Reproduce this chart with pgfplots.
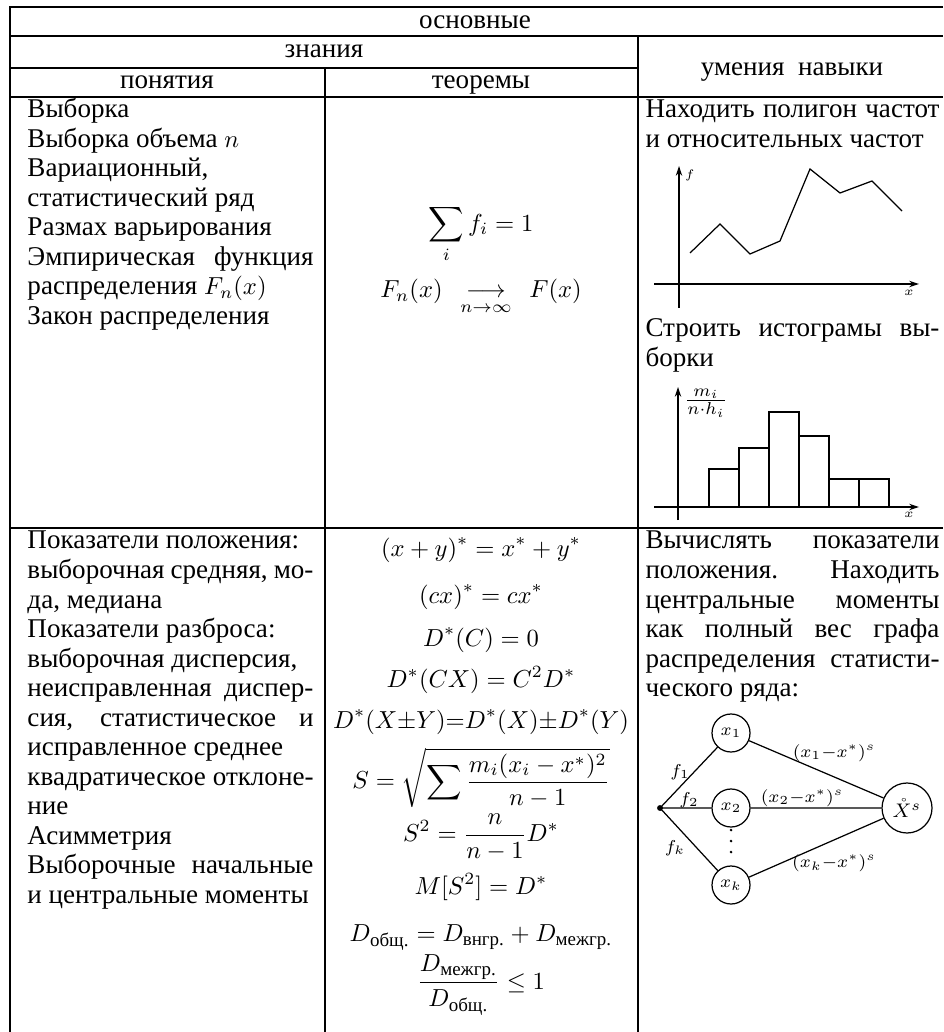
\documentclass[border=0pt]{standalone}
\usepackage{amsmath}
\usepackage{fontspec}
\setmainfont{Liberation Serif}[Scale=1.1]
\usepackage{pgfplots}
\pgfplotsset{compat=1.18}
\usetikzlibrary{arrows.meta}

% one pixel of the reference
\newlength\px
\setlength\px{0.4065pt}
\newcommand\LL[3]{\node[anchor=base west,inner sep=0pt] at (#1,#2) {#3};}
\newcommand\JL[4]{\node[anchor=base west,inner sep=0pt] at (#1,#2) {\makebox[#3\px][s]{#4}};}
\newcommand\FM[2]{\node[inner sep=0pt] at (481,#1) {$\displaystyle #2$};}

\pgfplotsset{smallchart/.style={
  anchor=south west,scale only axis,axis lines=middle,
  xtick=\empty,ytick=\empty,clip=false,
  axis line style={line width=0.5pt,-{Stealth[length=4pt,width=2.6pt]}}}}

\begin{document}
\begin{tikzpicture}
\begin{scope}[x=\px,y=-\px]
\useasboundingbox (0,0) rectangle (943,1032);
% table rules
\draw[line width=1pt] (943,7) -- (10,7) -- (10,1032);
\draw[line width=1pt] (10,36) -- (943,36) (10,68) -- (638,68)
  (10,97) -- (943,97) (10,528) -- (943,528);
\draw[line width=1pt] (325,68) -- (325,1032) (638,36) -- (638,1032);

% header
\node[anchor=base] at (475,29) {основные};
\node[anchor=base] at (324,58) {знания};
\node[anchor=base] at (167,89) {понятия};
\node[anchor=base] at (481,89) {теоремы};
\node[anchor=base] at (792,76) {умения\ \ навыки};

% row 2, concepts
\LL{27}{118}{Выборка}
\LL{27}{147.5}{Выборка объема $n$}
\LL{27}{177}{Вариационный,}
\LL{27}{206.5}{статистический ряд}
\LL{27}{236}{Размах варьирования}
\JL{27}{265.5}{286}{Эмпирическая функция}
\LL{27}{295}{распределения $F_n(x)$}
\LL{27}{324.5}{Закон распределения}

% row 2, theorems
\FM{234}{\sum_i f_i = 1}
\FM{297}{F_n(x)\ \ \mathop{\longrightarrow}\limits_{n\to\infty}\ \ F(x)}

% row 2, skills
\JL{645}{118}{294}{Находить полигон частот}
\LL{645}{147.5}{и относительных частот}
\JL{645}{337}{294}{Строить истограмы вы-}
\LL{645}{366.5}{борки}

% row 3, concepts
\LL{27}{549}{Показатели положения:}
\JL{27}{578.5}{286}{выборочная средняя, мо-}
\LL{27}{608}{да, медиана}
\LL{27}{637.5}{Показатели разброса:}
\LL{27}{667}{выборочная дисперсия,}
\JL{27}{696.5}{286}{неисправленная диспер-}
\JL{27}{726}{286}{сия, статистическое и}
\LL{27}{755.5}{исправленное среднее}
\JL{27}{785}{286}{квадратическое отклоне-}
\LL{27}{814.5}{ние}
\LL{27}{844}{Асимметрия}
\JL{27}{873.5}{286}{Выборочные начальные}
\LL{27}{903}{и центральные моменты}

% row 3, theorems
\FM{550}{(x+y)^* = x^* + y^*}
\FM{597}{(cx)^* = cx^*}
\FM{640}{D^*(C) = 0}
\FM{680}{D^*(CX) = C^2 D^*}
\FM{722}{D^*(X{\pm}Y){=}D^*(X){\pm}D^*(Y)}
\FM{778}{S = \sqrt{\sum \frac{m_i(x_i - x^*)^2}{n-1}}}
\FM{837}{S^2 = \frac{n}{n-1} D^*}
\FM{887}{M[S^2] = D^*}
\FM{938}{D_{\text{общ.}} = D_{\text{внгр.}} + D_{\text{межгр.}}}
\FM{985}{\frac{D_{\text{межгр.}}}{D_{\text{общ.}}} \le 1}

% row 3, skills
\JL{645}{549}{294}{Вычислять показатели}
\JL{645}{578.5}{294}{положения. Находить}
\JL{645}{608}{294}{центральные моменты}
\JL{645}{637.5}{294}{как полный вес графа}
\JL{645}{667}{294}{распределения статисти-}
\LL{645}{696.5}{ческого ряда:}

% weighted graph
\begin{scope}[every node/.style={font=\scriptsize},line width=0.5pt]
\node[circle,draw,minimum size=38\px,inner sep=0pt] (a) at (731,733) {$x_1$};
\node[circle,draw,minimum size=38\px,inner sep=0pt] (b) at (731,808) {$x_2$};
\node[circle,draw,minimum size=38\px,inner sep=0pt] (c) at (731,885) {$x_k$};
\node[circle,draw,minimum size=50\px,inner sep=0pt,font=\footnotesize] (X) at (907,808) {$\mathring{X}^s$};
\fill (660,808) circle (1.2pt);
\draw (660,808) -- (a) (660,808) -- (b) (660,808) -- (c);
\draw (a) -- (X) (b) -- (X) (c) -- (X);
\fill (731,830) circle (0.6pt) (731,841) circle (0.6pt) (731,852) circle (0.6pt);
\node at (680,772) {$f_1$};
\node at (689,800) {$f_2$};
\node at (675,848) {$f_k$};
\node at (834,753) {$(x_1{-}x^*)^s$};
\node at (802,798) {$(x_2{-}x^*)^s$};
\node at (834,863) {$(x_k{-}x^*)^s$};
\end{scope}
\end{scope}

% frequency polygon
\begin{axis}[smallchart,at={(654\px,-308\px)},width=265\px,height=142\px,
  xmin=-25,xmax=240,ymin=-24,ymax=118]
\addplot[black,line width=0.5pt] coordinates {(11,31)(41,60)(71,30)(101,43)(131,115)(161,91)(193,103)(223,73)};
\node[anchor=west,font=\tiny,inner sep=1pt] at (axis cs:3,109) {$f$};
\node[font=\tiny] at (axis cs:230,-9) {$x$};
\end{axis}

% histogram
\begin{axis}[smallchart,at={(654\px,-520\px)},width=265\px,height=133\px,
  xmin=-24,xmax=241,ymin=-13,ymax=120]
\addplot[ybar interval,draw=black,fill=white,line width=0.5pt] coordinates {(31,38)(61,59)(91,95)(121,71)(151,28)(181,28)(211,28)};
\node at (axis cs:28,104) {$\frac{m_i}{n\cdot h_i}$};
\node[font=\tiny] at (axis cs:231,-8) {$x$};
\end{axis}
\end{tikzpicture}
\end{document}
